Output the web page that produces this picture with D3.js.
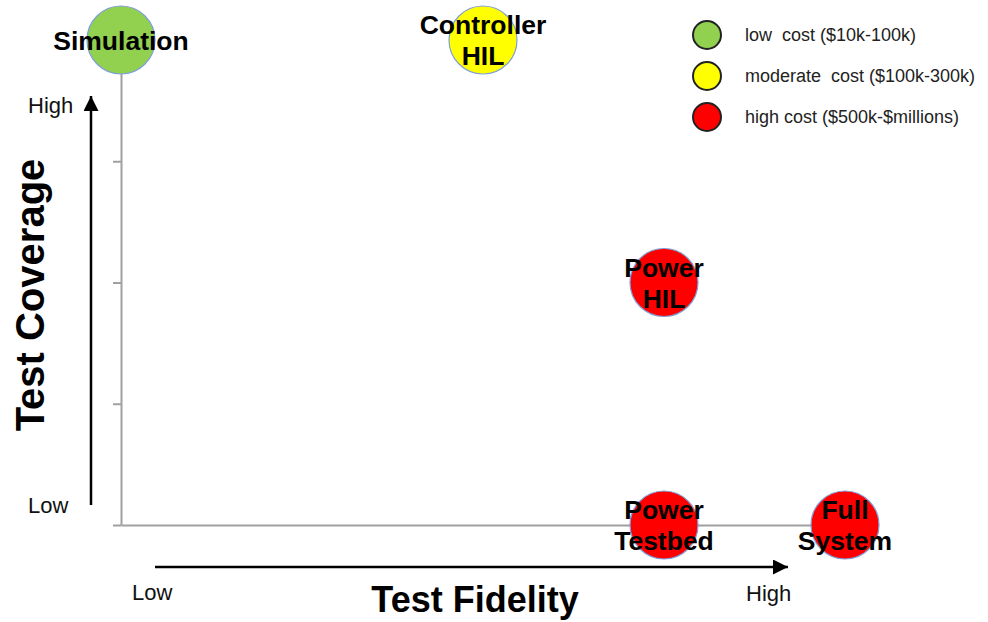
<!DOCTYPE html>
<html>
<head>
<meta charset="utf-8">
<script src="https://cdn.jsdelivr.net/npm/d3@7"></script>
<style>
  html, body { margin: 0; padding: 0; background: #fff; }
  svg { display: block; font-family: "Liberation Sans", Arial, sans-serif; }
</style>
</head>
<body>
<svg id="chart" width="988" height="622"></svg>
<script>
// ---- data ----
const names = [["Simulation"], ["Controller", "HIL"], ["Power", "HIL"], ["Power", "Testbed"], ["Full", "System"]];
const fidelity = [0, 2, 3, 3, 4];
const coverage = [4, 4, 2, 0, 0];
const costLevel = [0, 1, 2, 2, 2];
const costLabels = ["low  cost ($10k-100k)", "moderate  cost ($100k-300k)", "high cost ($500k-$millions)"];
const costColors = ["#92d050", "#ffff00", "#ff0000"];
const yTicks = [0, 1, 2, 3, 4];
const axisLowHigh = ["Low", "High"];
const xTitle = "Test Fidelity";
const yTitle = "Test Coverage";

const svg = d3.select("#chart");

const x = d3.scaleLinear().domain([0, 4]).range([121, 845]);
const y = d3.scaleLinear().domain([0, 4]).range([525, 40]);

// defs: arrowhead
svg.append("defs").append("marker")
  .attr("id", "arr").attr("viewBox", "0 0 10 10")
  .attr("refX", 10).attr("refY", 5)
  .attr("markerWidth", 6.5).attr("markerHeight", 6)
  .attr("markerUnits", "strokeWidth")
  .attr("orient", "auto")
  .append("path").attr("d", "M0,0 L10,5 L0,10 Z").attr("fill", "#000");

// axes
const gy = svg.append("g").attr("transform", `translate(${x(0)},0)`)
  .call(d3.axisLeft(y).tickValues(yTicks).tickSize(8).tickSizeOuter(0).tickFormat(""));
gy.select(".domain").attr("stroke", "#a0a0a0").attr("stroke-width", 2);
gy.selectAll(".tick line").attr("stroke", "#a0a0a0").attr("stroke-width", 2);

const gx = svg.append("g").attr("transform", `translate(0,${y(0)})`)
  .call(d3.axisBottom(x).tickValues([]).tickSize(0).tickSizeOuter(0));
gx.select(".domain").attr("stroke", "#a0a0a0").attr("stroke-width", 2);

// arrows
svg.append("line").attr("x1", 91).attr("y1", 505).attr("x2", 91).attr("y2", 96)
  .attr("stroke", "#000").attr("stroke-width", 2.5).attr("marker-end", "url(#arr)");
svg.append("line").attr("x1", 155).attr("y1", 567).attr("x2", 788).attr("y2", 567)
  .attr("stroke", "#000").attr("stroke-width", 2.5).attr("marker-end", "url(#arr)");

// low/high labels
svg.append("text").attr("x", 28).attr("y", 113).attr("font-size", 22).attr("fill", "#111").text(axisLowHigh[1]);
svg.append("text").attr("x", 28).attr("y", 513).attr("font-size", 22).attr("fill", "#111").text(axisLowHigh[0]);
svg.append("text").attr("x", 132).attr("y", 600).attr("font-size", 22).attr("fill", "#111").text(axisLowHigh[0]);
svg.append("text").attr("x", 746).attr("y", 601).attr("font-size", 22).attr("fill", "#111").text(axisLowHigh[1]);

// titles
svg.append("text").attr("x", 475).attr("y", 612).attr("text-anchor", "middle")
  .attr("font-size", 36).attr("font-weight", "bold").attr("fill", "#000").text(xTitle);
svg.append("text").attr("transform", "translate(44,295) rotate(-90)").attr("text-anchor", "middle")
  .attr("font-size", 40).attr("font-weight", "bold").attr("fill", "#000").text(yTitle);

// bubbles
const data = names.map((n, i) => ({ n, fx: fidelity[i], cy: coverage[i], c: costLevel[i] }));
svg.append("g").selectAll("circle").data(data).join("circle")
  .attr("cx", d => x(d.fx)).attr("cy", d => y(d.cy)).attr("r", 34)
  .attr("fill", d => costColors[d.c]).attr("stroke", "#7f9fd8").attr("stroke-width", 1.2);

const lg = svg.append("g").selectAll("text").data(data).join("text")
  .attr("text-anchor", "middle").attr("font-size", 26.5).attr("font-weight", "bold").attr("fill", "#000");
lg.each(function(d) {
  const t = d3.select(this);
  if (d.n.length === 1) {
    t.append("tspan").attr("x", x(d.fx)).attr("y", y(d.cy) + 10).text(d.n[0]);
  } else {
    t.append("tspan").attr("x", x(d.fx)).attr("y", y(d.cy) - 6).text(d.n[0]);
    t.append("tspan").attr("x", x(d.fx)).attr("y", y(d.cy) + 25).text(d.n[1]);
  }
});

// legend
const leg = svg.append("g");
costLabels.forEach((lab, i) => {
  const cy = 35 + i * 41;
  leg.append("circle").attr("cx", 707).attr("cy", cy).attr("r", 14)
    .attr("fill", costColors[i]).attr("stroke", "#222").attr("stroke-width", 2);
  leg.append("text").attr("x", 745).attr("y", cy + 6).attr("font-size", 18)
    .attr("fill", "#222").style("white-space", "pre").text(lab);
});
</script>
</body>
</html>
